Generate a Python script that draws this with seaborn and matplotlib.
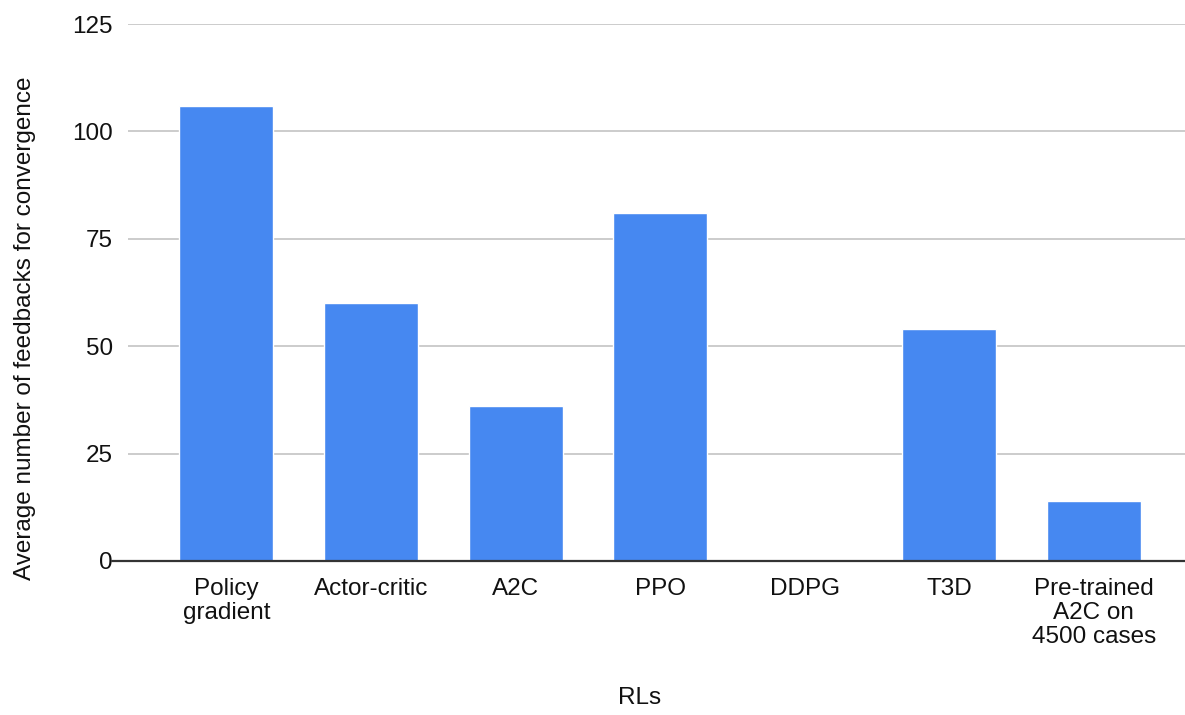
import matplotlib
matplotlib.use("Agg")
import matplotlib.pyplot as plt
import pandas as pd
import seaborn as sns

methods = ["Policy\ngradient", "Actor-critic", "A2C", "PPO", "DDPG", "T3D",
           "Pre-trained\nA2C on\n4500 cases"]
feedbacks = [106, 60, 36, 81, 0, 54, 14]
yticks = [0, 25, 50, 75, 100, 125]

df = pd.DataFrame({"RLs": methods, "feedbacks": feedbacks})

sns.set_style("white")
plt.rcParams['font.family'] = ['Liberation Sans', 'DejaVu Sans']

fig = plt.figure(figsize=(11.85, 7.15), dpi=100)
ax = fig.add_axes([0.108, 0.2154, 0.892, 0.751])

sns.barplot(ax=ax, data=df, x="RLs", y="feedbacks", color="#4688F1",
            width=0.65, saturation=1, zorder=3)

ax.set_ylim(0, 125)
ax.set_xlim(-0.68, 6.63)
ax.set_yticks(yticks)
ax.yaxis.grid(True, color="#cccccc", linewidth=1.4, zorder=0)
ax.xaxis.grid(False)
ax.axhline(0, xmin=-0.015, color="#333333", linewidth=1.6, zorder=4, clip_on=False)
for s in ax.spines.values():
    s.set_visible(False)

fs = 17.5
ax.tick_params(axis="y", length=0, pad=11, labelsize=fs, labelcolor="#111111")
ax.tick_params(axis="x", length=0, pad=12, labelsize=fs, labelcolor="#111111")
for lbl in ax.get_xticklabels():
    lbl.set_linespacing(1.12)

ax.set_xlabel("RLs", fontsize=fs, color="#111111")
ax.xaxis.set_label_coords((640 - 128) / 1057, -(698 - 561) / 537)
ax.xaxis.label.set_va("center")
ax.set_ylabel("Average number of feedbacks for convergence", fontsize=fs,
              color="#111111", va="center")
ax.yaxis.set_label_coords((25 - 128) / 1057, (561 - 328) / 537)

fig.savefig("out.png", dpi=100)
